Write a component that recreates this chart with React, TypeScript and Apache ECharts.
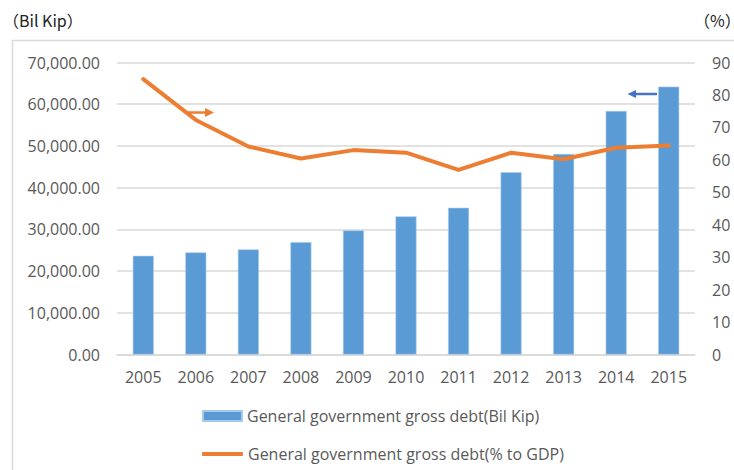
import React, { useEffect, useRef } from "react";
import * as echarts from "echarts";

const years = ["2005", "2006", "2007", "2008", "2009", "2010", "2011", "2012", "2013", "2014", "2015"];
const debtBilKip = [23660, 24480, 25190, 26950, 29760, 33120, 35180, 43680, 48070, 58390, 64220];
const debtPctGdp = [84.9, 72.3, 64.1, 60.4, 63.0, 62.2, 56.9, 62.2, 60.2, 63.7, 64.4];
const barName = "General government gross debt(Bil Kip)";
const lineName = "General government gross debt(% to GDP)";
const leftUnit = "（Bil Kip）";
const rightUnit = "（%）";

const FONT = "'Open Sans', 'Noto Sans', sans-serif";
const UNIT_FONT = "'Noto Sans CJK JP', 'Open Sans', sans-serif";
const TEXT = "#595959";
const GRID = "#D9D9D9";

export default function App() {
  const ref = useRef<HTMLDivElement>(null);
  useEffect(() => {
    if (!ref.current) return;
    const chart = echarts.init(ref.current, undefined, { renderer: "svg" });
    chart.setOption({
      animation: false,
      backgroundColor: "#fff",
      textStyle: { fontFamily: FONT },
      grid: { left: 117, right: 39, top: 62.5, bottom: 115.5, containLabel: false },
      xAxis: {
        type: "category",
        data: years,
        axisLine: { show: true, lineStyle: { color: GRID, width: 1.5 } },
        axisTick: { show: false },
        axisLabel: { color: TEXT, fontSize: 16, fontFamily: FONT, margin: 14 },
      },
      yAxis: [
        {
          type: "value",
          min: 0,
          max: 70000,
          interval: 10000,
          axisLine: { show: false },
          axisTick: { show: false },
          splitLine: { lineStyle: { color: GRID, width: 1.5 } },
          axisLabel: {
            color: TEXT,
            fontSize: 16,
            fontFamily: FONT,
            margin: 17,
            formatter: (v: number) =>
              v.toLocaleString("en-US", { minimumFractionDigits: 2, maximumFractionDigits: 2 }),
          },
        },
        {
          type: "value",
          min: 0,
          max: 90,
          interval: 10,
          position: "right",
          axisLine: { show: false },
          axisTick: { show: false },
          splitLine: { show: false },
          axisLabel: { color: TEXT, fontSize: 16, fontFamily: FONT, margin: 17, align: "left" },
        },
      ],
      legend: [
        {
          left: 202,
          top: 406,
          padding: 0,
          itemWidth: 39,
          itemHeight: 10,
          data: [{ name: barName, icon: "rect" }],
          textStyle: { color: TEXT, fontSize: 16, fontFamily: FONT, lineHeight: 20 },
        },
        {
          left: 202,
          top: 444,
          padding: 0,
          itemWidth: 41,
          itemHeight: 4,
          data: [{ name: lineName, icon: "roundRect" }],
          textStyle: { color: TEXT, fontSize: 16, fontFamily: FONT, lineHeight: 20 },
        },
      ],
      series: [
        {
          name: barName,
          type: "bar",
          yAxisIndex: 0,
          data: debtBilKip,
          barWidth: 21,
          itemStyle: { color: "#5B9BD5", borderColor: "#A9CBEA", borderWidth: 0.6 },
        },
        {
          name: lineName,
          type: "line",
          yAxisIndex: 1,
          data: debtPctGdp,
          symbol: "none",
          lineStyle: { color: "#ED7D31", width: 4, cap: "round", join: "round" },
          itemStyle: { color: "#ED7D31" },
        },
      ],
      graphic: [
        {
          type: "rect",
          shape: { x: 12.5, y: 40.5, width: 800, height: 500 },
          style: { fill: "none", stroke: GRID, lineWidth: 1.5 },
          silent: true,
        },
        {
          type: "text",
          x: 3,
          y: 12,
          style: { text: leftUnit, fill: "#222", fontSize: 16, fontFamily: UNIT_FONT },
        },
        {
          type: "text",
          x: 694,
          y: 12,
          style: { text: rightUnit, fill: "#222", fontSize: 16, fontFamily: UNIT_FONT },
        },
        {
          type: "line",
          shape: { x1: 186, y1: 112.5, x2: 207, y2: 112.5 },
          style: { stroke: "#ED7D31", lineWidth: 2.5 },
        },
        {
          type: "polygon",
          shape: { points: [[214, 112.5], [205, 108], [205, 117]] },
          style: { fill: "#ED7D31" },
        },
        {
          type: "line",
          shape: { x1: 657, y1: 94, x2: 634, y2: 94 },
          style: { stroke: "#4472C4", lineWidth: 2.5 },
        },
        {
          type: "polygon",
          shape: { points: [[627.5, 94], [636, 90], [636, 98]] },
          style: { fill: "#4472C4" },
        },
      ],
    });
    return () => chart.dispose();
  }, []);
  return <div ref={ref} style={{ width: 734, height: 470, position: "absolute", left: 0, top: 0 }} />;
}
